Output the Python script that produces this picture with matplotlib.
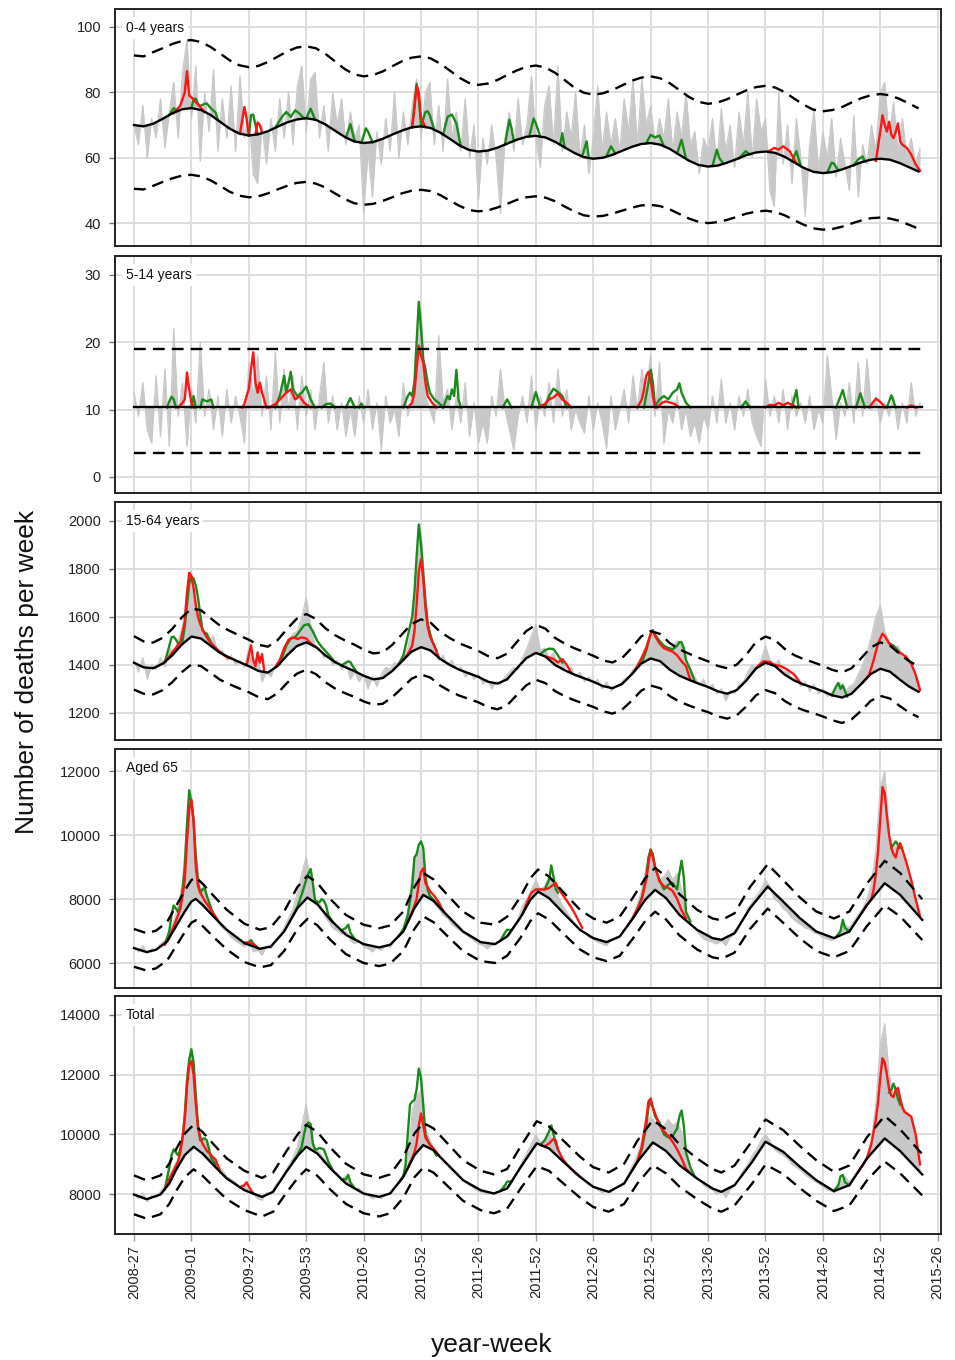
import numpy as np
import matplotlib.pyplot as plt

plt.rcParams['font.family'] = ['Liberation Sans', 'DejaVu Sans']

# x axis: weeks counted from 2008-27
tick_labels = ['2008-27', '2009-01', '2009-27', '2009-53', '2010-26', '2010-52', '2011-26',
               '2011-52', '2012-26', '2012-52', '2013-26', '2013-52', '2014-26', '2014-52', '2015-26']
tick_weeks = np.arange(len(tick_labels)) * 26

# ---------------- 0-4 years ----------------
obs_0_4 = [70, 64, 76, 60, 72, 66, 78, 63, 74, 83, 66, 86, 96, 72, 88, 59, 80, 68, 87, 62,
           78, 66, 82, 62, 85, 66, 74, 55, 52, 70, 58, 72, 62, 78, 66, 80, 64, 82, 88, 68,
           84, 86, 66, 76, 62, 80, 70, 78, 64, 74, 66, 70, 43, 62, 48, 68, 58, 72, 62, 80,
           60, 74, 64, 76, 84, 66, 80, 83, 64, 76, 62, 84, 66, 74, 62, 78, 60, 70, 47, 66,
           58, 70, 60, 43, 66, 74, 62, 78, 64, 70, 85, 66, 57, 76, 82, 64, 88, 62, 74, 66,
           80, 60, 70, 55, 66, 82, 62, 74, 64, 72, 62, 78, 68, 84, 64, 84, 70, 76, 64, 72,
           66, 78, 62, 74, 66, 80, 64, 68, 55, 66, 62, 72, 58, 75, 62, 70, 57, 74, 64, 80,
           60, 78, 68, 72, 50, 45, 80, 58, 70, 52, 72, 60, 42, 64, 75, 56, 68, 60, 72, 54,
           66, 58, 50, 73, 48, 64, 58, 70, 62, 80, 83, 66, 77, 62, 72, 60, 66, 58, 63]
base_0_4 = [70.0, 69.6, 70.4, 71.9, 73.6, 74.8, 75.2, 74.6, 73.1, 71.0, 68.9, 67.4, 66.8,
            67.2, 68.1, 69.5, 70.8, 71.7, 72.1, 71.6, 70.2, 68.3, 66.4, 65.0, 64.5,
            64.8, 65.8, 67.1, 68.3, 69.3, 69.6, 69.1, 67.7, 65.8, 63.8, 62.4, 61.9,
            62.2, 63.1, 64.3, 65.5, 66.4, 66.7, 66.2, 64.9, 63.2, 61.5, 60.2, 59.7,
            60.0, 60.9, 62.1, 63.3, 64.2, 64.5, 64.0, 62.7, 60.9, 59.1, 57.8, 57.3,
            57.6, 58.5, 59.6, 60.8, 61.6, 61.9, 61.5, 60.3, 58.6, 56.9, 55.7, 55.3,
            55.6, 56.4, 57.5, 58.6, 59.4, 59.7, 59.4, 58.4, 57.1, 55.8]
upper_0_4 = [91.3, 91.0, 92.3, 93.5, 94.8, 95.7, 96.0, 95.4, 93.9, 91.9, 89.8, 88.3, 87.7,
             88.1, 89.3, 90.9, 92.5, 93.7, 94.1, 93.5, 91.8, 89.5, 87.2, 85.5, 84.9,
             85.3, 86.4, 88.0, 89.5, 90.6, 91.0, 90.4, 88.8, 86.7, 84.5, 82.9, 82.3,
             82.7, 83.8, 85.3, 86.7, 87.8, 88.2, 87.6, 86.0, 83.8, 81.5, 79.9, 79.3,
             79.7, 80.7, 82.1, 83.5, 84.5, 84.9, 84.3, 82.8, 80.7, 78.6, 77.1, 76.5,
             76.9, 77.9, 79.3, 80.6, 81.6, 82.0, 81.5, 80.1, 78.1, 76.2, 74.7, 74.2,
             74.6, 75.5, 76.9, 78.2, 79.1, 79.5, 79.1, 78.0, 76.6, 75.1]
lower_0_4 = [50.5, 50.3, 51.4, 52.6, 53.7, 54.5, 54.8, 54.3, 53.1, 51.4, 49.6, 48.4, 47.9,
             48.2, 49.1, 50.3, 51.4, 52.3, 52.6, 52.1, 50.9, 49.1, 47.4, 46.1, 45.6,
             45.9, 46.8, 47.9, 49.1, 49.9, 50.2, 49.8, 48.6, 46.9, 45.3, 44.0, 43.6,
             43.9, 44.8, 45.9, 47.1, 47.9, 48.2, 47.8, 46.7, 45.1, 43.6, 42.4, 42.0,
             42.2, 42.9, 43.8, 44.7, 45.4, 45.6, 45.2, 44.2, 42.8, 41.4, 40.4, 40.0,
             40.3, 41.0, 41.9, 42.9, 43.5, 43.8, 43.4, 42.4, 40.9, 39.5, 38.4, 38.0,
             38.2, 38.9, 39.9, 40.8, 41.5, 41.7, 41.4, 40.7, 39.5, 38.3]
weeks_0_4 = np.arange(len(base_0_4)) * 13 / 3
red_0_4 = [([18, 21, 23, 24, 25, 26, 28, 30, 32], [73.6, 76, 80, 86.5, 79, 78.5, 77, 75.5, 74.0]),
           ([48, 50, 51, 52], [67.3, 75.5, 72, 66.8]),
           ([55, 56, 57, 58], [67.1, 70.8, 70, 67.6]),
           ([126, 127, 128, 129, 130, 132], [69.3, 75, 82, 80, 72, 69.4]),
           ([287, 290, 292, 294, 297, 300], [61.8, 63, 62.5, 63.5, 62, 58.3]),
           ([336, 338, 339, 340, 341, 342, 343, 344, 345, 346, 347, 348, 350, 352, 354, 356],
            [59.0, 68, 73, 70, 68, 71, 67, 66, 68, 70.5, 65, 64, 63, 61, 58, 56])]
green_0_4 = [([16, 18, 19, 20], [73.1, 75.2, 74.5, 74.3]),
             ([26, 27, 28, 29, 30, 32, 33, 35, 37, 38], [75.2, 78, 78, 76.5, 75.8, 76.5, 76.6, 75, 73.8, 71.5]),
             ([52, 53, 54, 55, 56], [66.8, 73, 73.2, 70, 67.2]),
             ([64, 67, 69, 71, 73, 75, 77], [69.2, 72.5, 74, 72.5, 74.5, 73.5, 72.0]),
             ([78, 80, 82], [72.1, 75, 71.7]),
             ([96, 98, 100], [66.2, 70.3, 65.0]),
             ([103, 105, 106, 108], [64.6, 69, 68, 64.7]),
             ([126, 127, 128, 129, 130], [69.3, 76, 82.6, 78, 70]),
             ([130, 132, 133, 134, 136], [69.6, 74, 74.2, 73, 68.5]),
             ([140, 142, 144, 146, 148], [67.1, 72.5, 73.2, 70.5, 63.5]),
             ([168, 170, 171, 172], [64.0, 71.6, 69, 65.1]),
             ([179, 181, 182, 184], [66.5, 72, 70.5, 66.5]),
             ([193, 194, 195], [64.0, 67.5, 63.2]),
             ([203, 205, 206], [60.5, 65, 60.0]),
             ([214, 216, 218], [60.5, 63.5, 61.3]),
             ([232, 234, 236, 238, 240], [64.4, 67, 66.2, 66.8, 63.5]),
             ([246, 248, 250], [61.3, 65.5, 59.7]),
             ([262, 264, 265, 267], [57.5, 62.5, 60, 58.2]),
             ([274, 277, 279], [59.8, 62, 61.0]),
             ([298, 300, 302], [58.9, 62, 57.4]),
             ([314, 316, 317, 319], [55.5, 58.5, 58.2, 56.1]),
             ([326, 328, 330, 331], [57.6, 59.5, 60.4, 58.8])]

# ---------------- 5-14 years ----------------
obs_5_14 = [12.5, 9, 14, 7, 5, 15, 6, 16, 4.5, 22, 9, 14, 4.5, 13, 8, 20, 9, 13, 7, 12,
            6, 13, 8, 12, 9, 5, 17, 12, 18, 9, 15, 7, 18.5, 8, 16, 10, 15, 7, 15, 9,
            13, 7, 12, 17, 8, 12, 7, 11, 6, 10, 6, 12, 8, 13, 7, 11, 4, 12, 8, 10,
            6, 14, 9, 12, 17, 25, 12, 10, 8, 21, 11, 13, 7, 12, 8, 14, 6, 11, 5, 8,
            5, 12, 9, 16, 10, 7, 4, 9, 12, 8, 15, 7, 12, 9, 14, 8, 16, 9, 13, 7,
            10, 8, 6.5, 12, 7, 11, 8, 4.2, 12, 7, 10, 13, 8, 15, 10, 16, 12, 18, 9, 17,
            5, 10, 8, 12, 7, 10, 6, 8, 5, 9, 7, 12, 8, 14.5, 8, 11, 7, 12, 9, 13,
            8, 6, 4.5, 14.5, 9, 12, 8, 13, 7, 12, 9, 11, 8, 12, 7, 10, 8, 18, 12, 5.5,
            11, 9, 14, 8, 17, 9, 17.5, 10, 12, 8, 11, 9, 12, 7, 11, 8, 14, 9, 11]
weeks_5_14 = [0, 357]
base_5_14 = [10.3, 10.3]
upper_5_14 = [19.0, 19.0]
lower_5_14 = [3.5, 3.5]
red_5_14 = [([20, 22, 23, 24, 25, 26, 27], [10.3, 11, 11.5, 15.5, 13, 11, 10.3]),
            ([49, 50, 51, 52, 53, 54, 55, 56, 57, 58, 60], [10.3, 10.8, 12, 13, 16, 18.5, 14, 12.5, 14, 12.5, 10.3]),
            ([61, 64, 67, 69, 71, 73, 75, 77, 80], [10.3, 10.8, 11.8, 12.5, 13, 11.5, 12, 11, 10.3]),
            ([124, 126, 127, 128, 129, 130, 131, 132, 133, 135, 137], [10.3, 11, 12.5, 16, 19.5, 18, 17, 14, 12, 11, 10.3]),
            ([183, 186, 188, 190, 192, 194, 196, 198], [10.3, 10.8, 11.5, 11.8, 12.4, 11.5, 11, 10.3]),
            ([228, 230, 231, 232, 233, 234, 235, 236], [10.3, 11.5, 13, 15, 15.6, 14.5, 12, 10.3]),
            ([237, 239, 241, 243, 245, 247], [10.3, 11, 11.2, 11, 10.8, 10.3]),
            ([286, 288, 290, 292, 294, 296, 298, 300], [10.3, 10.7, 10.6, 11.0, 10.6, 11.0, 10.7, 10.3]),
            ([333, 335, 336, 337, 339, 340], [10.3, 11.2, 11.6, 11.4, 10.8, 10.3]),
            ([350, 352, 354], [10.3, 10.6, 10.3])]
green_5_14 = [([15, 16, 17, 18, 19], [10.3, 11.2, 11.9, 11.5, 10.3]),
              ([26, 27, 28], [10.3, 12, 10.3]),
              ([30, 31, 33, 35, 36], [10.3, 11.5, 11.2, 11.5, 10.3]),
              ([64, 66, 67, 68, 69, 70, 71, 72, 74, 76, 78, 80, 82],
               [10.3, 12, 13.5, 15, 12.5, 14, 15.6, 13, 12, 12.5, 13.4, 11.5, 10.3]),
              ([85, 87, 89, 91], [10.3, 10.8, 10.9, 10.3]),
              ([96, 98, 99, 100], [10.3, 11.7, 11, 10.3]),
              ([102, 103, 104], [10.3, 10.9, 10.3]),
              ([122, 124, 125, 126, 127, 128, 129, 130, 131, 132, 133, 134, 136, 138, 140],
               [10.3, 12, 12.5, 12, 14, 20, 26, 22, 17.5, 16, 14, 12.5, 11.5, 11, 10.3]),
              ([140, 142, 143, 144, 145, 146, 147, 148], [10.3, 12, 11.5, 13, 12, 15.9, 11.5, 10.3]),
              ([167, 169, 171], [10.3, 11.5, 10.3]),
              ([180, 182, 184], [10.3, 12.6, 10.3]),
              ([186, 188, 190, 192, 194, 196], [10.3, 12, 13.1, 12.6, 12, 10.3]),
              ([231, 233, 234, 235, 236], [10.3, 14, 15.9, 14, 10.5]),
              ([236, 238, 240, 242, 244, 246, 247, 248, 250, 252], [10.5, 11.5, 12, 11.5, 12.5, 13, 13.9, 12.5, 11, 10.3]),
              ([275, 277, 279], [10.3, 11.2, 10.3]),
              ([298, 300, 301], [10.3, 12.9, 10.3]),
              ([318, 320, 321, 323], [10.3, 12, 12.9, 10.3]),
              ([327, 329, 331], [10.3, 12.4, 10.3]),
              ([341, 343, 345], [10.3, 12.1, 10.3])]

# ---------------- 15-64 years ----------------
obs_15_64 = [1420, 1370, 1430, 1340, 1400, 1380, 1430, 1390, 1470, 1450, 1500, 1560, 1700, 1790, 1650,
             1560, 1530, 1500, 1520, 1450, 1460, 1420, 1440, 1400, 1420, 1390, 1470, 1400, 1440, 1330,
             1370, 1350, 1400, 1420, 1470, 1500, 1530, 1540, 1600, 1680, 1570, 1480, 1470, 1430, 1440,
             1400, 1420, 1380, 1410, 1340, 1370, 1330, 1360, 1300, 1350, 1310, 1360, 1390, 1380, 1410,
             1400, 1430, 1470, 1560, 1800, 1950, 1700, 1520, 1470, 1420, 1440, 1400, 1420, 1380, 1390,
             1350, 1370, 1340, 1360, 1320, 1340, 1300, 1330, 1320, 1350, 1370, 1390, 1380, 1430, 1470,
             1520, 1570, 1460, 1470, 1430, 1450, 1400, 1420, 1370, 1390, 1350, 1370, 1330, 1350, 1320,
             1340, 1300, 1330, 1290, 1310, 1320, 1340, 1350, 1380, 1400, 1440, 1480, 1530, 1510, 1480,
             1470, 1460, 1480, 1500, 1490, 1420, 1370, 1350, 1320, 1340, 1300, 1320, 1280, 1300, 1250,
             1290, 1280, 1320, 1330, 1370, 1400, 1380, 1420, 1480, 1420, 1400, 1420, 1370, 1380, 1340,
             1350, 1310, 1330, 1290, 1320, 1280, 1300, 1270, 1280, 1300, 1320, 1280, 1310, 1320, 1360,
             1400, 1450, 1520, 1600, 1650, 1540, 1500, 1460, 1480, 1430, 1440, 1400, 1340, 1300]
base_15_64 = [1409, 1390, 1386, 1405, 1440, 1485, 1518, 1510, 1480, 1450,
              1430, 1412, 1395, 1375, 1368, 1395, 1440, 1478, 1494, 1475,
              1440, 1412, 1392, 1375, 1355, 1340, 1345, 1375, 1415, 1455,
              1474, 1460, 1425, 1400, 1380, 1365, 1350, 1330, 1322, 1340,
              1385, 1428, 1450, 1435, 1400, 1378, 1360, 1345, 1330, 1312,
              1303, 1320, 1360, 1405, 1427, 1415, 1380, 1355, 1338, 1322,
              1308, 1290, 1280, 1295, 1335, 1385, 1409, 1395, 1360, 1335,
              1318, 1305, 1290, 1273, 1264, 1280, 1320, 1362, 1384, 1372,
              1340, 1310, 1288]
upper_15_64 = [1520, 1498, 1493, 1513, 1550, 1598, 1635, 1628, 1595, 1563,
               1542, 1523, 1505, 1484, 1476, 1503, 1550, 1592, 1612, 1592,
               1553, 1524, 1503, 1485, 1464, 1448, 1452, 1484, 1527, 1570,
               1590, 1576, 1538, 1512, 1490, 1474, 1458, 1437, 1428, 1447,
               1495, 1541, 1567, 1551, 1513, 1489, 1470, 1454, 1438, 1419,
               1410, 1428, 1470, 1518, 1541, 1529, 1491, 1465, 1447, 1430,
               1415, 1396, 1386, 1401, 1443, 1495, 1518, 1504, 1467, 1441,
               1424, 1411, 1396, 1379, 1369, 1386, 1428, 1472, 1494, 1481,
               1447, 1416, 1394]
lower_15_64 = [1297, 1280, 1277, 1295, 1328, 1370, 1402, 1395, 1367, 1338,
               1319, 1302, 1286, 1266, 1257, 1282, 1325, 1363, 1380, 1362,
               1328, 1302, 1283, 1267, 1248, 1234, 1238, 1266, 1303, 1342,
               1360, 1347, 1314, 1291, 1272, 1258, 1244, 1224, 1215, 1232,
               1274, 1315, 1338, 1324, 1291, 1270, 1253, 1239, 1225, 1207,
               1197, 1213, 1250, 1292, 1314, 1303, 1270, 1247, 1231, 1216,
               1203, 1186, 1176, 1190, 1227, 1273, 1295, 1282, 1250, 1227,
               1211, 1199, 1185, 1169, 1158, 1173, 1209, 1250, 1271, 1260,
               1230, 1202, 1182]
weeks_15_64 = np.arange(len(base_15_64)) * 13 / 3
red_15_64 = [([14, 18, 21, 23, 24, 25, 26, 27, 28, 29, 30, 32, 34, 37, 40, 43],
              [1412, 1460, 1495, 1580, 1700, 1784, 1770, 1720, 1650, 1600, 1570, 1530, 1500, 1470, 1445, 1428]),
             ([51, 52, 53, 54, 55, 56, 57, 58, 59], [1398, 1440, 1482, 1420, 1395, 1452, 1410, 1445, 1372]),
             ([64, 66, 68, 70, 72, 74, 76, 78, 80, 82], [1390, 1420, 1470, 1505, 1515, 1508, 1515, 1510, 1490, 1475]),
             ([120, 122, 124, 126, 127, 128, 129, 130, 131, 132, 133, 134, 136, 138],
              [1405, 1420, 1445, 1480, 1540, 1650, 1790, 1840, 1760, 1640, 1560, 1520, 1480, 1432]),
             ([186, 188, 190, 192, 194, 196, 198], [1437, 1430, 1425, 1410, 1425, 1400, 1368]),
             ([226, 228, 230, 232, 234, 235, 236, 238, 240, 242, 244, 246, 248, 250, 252],
              [1367, 1395, 1430, 1470, 1530, 1541, 1520, 1490, 1470, 1462, 1455, 1440, 1415, 1395, 1336]),
             ([282, 285, 288, 290, 293, 296, 299, 302], [1390, 1415, 1412, 1400, 1395, 1380, 1360, 1323]),
             ([330, 333, 335, 337, 339, 340, 342, 344, 346, 348, 350, 352, 354, 356],
              [1326, 1360, 1420, 1490, 1530, 1520, 1490, 1470, 1455, 1445, 1430, 1405, 1360, 1295])]
green_15_64 = [([14, 16, 17, 18, 19, 20, 22, 23, 24, 25, 26, 27, 28, 29, 30, 31, 32, 33, 35, 38, 41],
                [1412, 1480, 1515, 1518, 1505, 1490, 1500, 1560, 1650, 1740, 1765, 1760, 1730, 1680, 1610,
                 1545, 1535, 1530, 1490, 1460, 1440]),
               ([66, 69, 71, 73, 75, 77, 79, 81, 83, 85, 88, 91],
                [1405, 1480, 1510, 1515, 1540, 1565, 1570, 1540, 1500, 1475, 1445, 1412]),
               ([94, 96, 97, 98, 99, 101], [1398, 1410, 1415, 1412, 1395, 1369]),
               ([120, 122, 123, 124, 125, 126, 127, 128, 129, 130, 131, 132, 133, 135, 137],
                [1405, 1440, 1480, 1520, 1560, 1600, 1700, 1850, 1985, 1900, 1780, 1660, 1570, 1500, 1460]),
               ([184, 186, 188, 190, 192, 194], [1445, 1460, 1468, 1466, 1440, 1410]),
               ([230, 232, 234, 235, 236, 238, 240, 242, 244, 246, 247, 248, 249, 250, 252, 254],
                [1410, 1460, 1530, 1545, 1525, 1500, 1480, 1470, 1465, 1480, 1495, 1495, 1470, 1420, 1380, 1330]),
               ([316, 318, 319, 320, 321, 323], [1273, 1310, 1325, 1300, 1315, 1268]),
               ([342, 343, 344, 345, 347], [1490, 1485, 1480, 1470, 1450])]

# ---------------- Aged 65 ----------------
obs_65 = [6500, 6350, 6550, 6300, 6450, 6400, 6600, 6700, 6900, 7300, 7800, 8500, 10500, 11300, 9500,
          8300, 8400, 7800, 7500, 7300, 7100, 7000, 6800, 6700, 6600, 6500, 6650, 6350, 6400, 6250,
          6500, 6450, 6700, 6850, 7100, 7400, 7700, 8200, 8800, 9300, 8600, 7900, 7900, 7500, 7300,
          7100, 7000, 6900, 7000, 6700, 6600, 6700, 6500, 6450, 6350, 6500, 6400, 6550, 6500, 6700,
          6900, 7100, 7500, 8800, 9400, 9600, 8600, 8100, 7900, 7700, 7500, 7400, 7200, 7100, 7000,
          6900, 6800, 6700, 6600, 6550, 6450, 6550, 6600, 6700, 6900, 6850, 7100, 7400, 7800, 8000,
          8300, 8600, 8300, 8400, 8700, 8500, 8100, 7800, 7600, 7400, 7200, 7000, 6950, 6800, 6750,
          6650, 6600, 6550, 6700, 6750, 6850, 7000, 7200, 7500, 7800, 8300, 9000, 9400, 8900, 8600,
          8700, 8900, 8600, 8800, 8300, 7600, 7200, 7100, 6900, 6750, 6700, 6650, 6600, 6700, 6550,
          6800, 6900, 7100, 7400, 7700, 7900, 8100, 8300, 8600, 8400, 8000, 7900, 7700, 7600, 7400,
          7300, 7200, 7100, 7050, 6950, 6900, 6800, 6750, 6700, 6850, 7000, 7200, 7100, 7300, 7500,
          7700, 8000, 8500, 9500, 11500, 12000, 10000, 9600, 9700, 9500, 9100, 8600, 8000, 7600]
weeks_65 = [0, 5.7, 10, 15, 19, 23, 26, 28, 31, 36, 42, 50, 57, 62, 68, 74, 78.5, 83, 89, 96,
            104, 111, 116, 122, 127, 131, 135.6, 141.6, 149, 157, 163.5, 169, 175, 179.5, 183, 188, 194.5, 202, 208, 214,
            220, 226, 231.5, 236, 241, 247, 255, 262, 266, 272, 279, 287, 294, 301.6, 309, 317, 324, 332, 340, 347,
            357]
base_65 = [6467, 6342, 6415, 6675, 7143, 7611, 7923, 8006, 7819, 7455, 7039, 6623, 6446, 6519, 6987, 7715, 8048, 7840, 7351, 6883,
           6592, 6488, 6571, 6987, 7715, 8131, 7944, 7507, 6987, 6654, 6592, 6831, 7420, 7975, 8235, 8027, 7559, 7039, 6779, 6654,
           6831, 7403, 7975, 8287, 8027, 7507, 7039, 6779, 6727, 6935, 7715, 8391, 7923, 7403, 6987, 6779, 6987, 7819, 8495, 8131,
           7351]
upper_65 = [7065, 6934, 7011, 7284, 7775, 8267, 8594, 8681, 8485, 8103, 7666, 7229, 7043, 7120, 7611, 8376, 8725, 8507, 7994, 7502,
            7197, 7087, 7175, 7611, 8376, 8813, 8616, 8157, 7611, 7262, 7197, 7448, 8066, 8649, 8922, 8703, 8212, 7666, 7393, 7262,
            7448, 8048, 8649, 8976, 8703, 8157, 7666, 7393, 7338, 7557, 8376, 9086, 8594, 8048, 7611, 7393, 7611, 8485, 9195, 8813,
            7994]
lower_65 = [5884, 5766, 5835, 6081, 6523, 6966, 7260, 7339, 7162, 6818, 6425, 6032, 5864, 5933, 6376, 7064, 7378, 7182, 6720, 6277,
            6002, 5904, 5983, 6376, 7064, 7457, 7280, 6867, 6376, 6061, 6002, 6228, 6785, 7310, 7555, 7359, 6916, 6425, 6179, 6061,
            6228, 6769, 7310, 7604, 7359, 6867, 6425, 6179, 6130, 6327, 7064, 7702, 7260, 6769, 6376, 6179, 6376, 7162, 7801, 7457,
            6720]
red_65 = [([14, 16, 18, 20, 21, 22, 23, 24, 25, 26, 27, 28, 29, 30, 32, 34, 36, 38],
           [6580, 6800, 7150, 7500, 7700, 8100, 8600, 9800, 10800, 11100, 10400, 9000, 8400, 8200, 7950, 7750, 7550, 7330]),
          ([50, 52, 54, 56], [6623, 6650, 6600, 6480]),
          ([124, 126, 128, 129, 130, 131, 132, 134, 136, 138, 140],
           [7280, 7600, 8000, 8500, 8850, 8960, 8500, 8250, 8100, 7900, 7620]),
          ([176, 178, 180, 182, 184, 186, 188, 190, 191, 192, 194, 196, 198, 200, 203],
           [7530, 7900, 8200, 8300, 8300, 8300, 8350, 8450, 8500, 8350, 8150, 7950, 7750, 7500, 7100]),
          ([224, 226, 228, 230, 232, 233, 234, 235, 236, 238, 240, 242, 244, 246, 248, 250],
           [7210, 7420, 7700, 8000, 8600, 9100, 9530, 9300, 9000, 8550, 8400, 8350, 8250, 8000, 7650, 7400]),
          ([330, 332, 334, 335, 336, 337, 338, 339, 340, 341, 342, 343, 344, 345, 346, 347, 348, 350, 352, 354, 356],
           [7610, 7819, 8000, 8300, 8800, 9500, 10500, 11500, 11300, 10600, 10000, 9600, 9400, 9300, 9600, 9750,
            9550, 9100, 8600, 8000, 7450])]
green_65 = [([14, 16, 17, 18, 19, 20, 21, 22, 23, 24, 25, 26, 27, 28, 29, 30, 31, 32, 33, 34, 36],
             [6580, 7000, 7500, 7800, 7700, 7600, 7800, 8300, 9000, 10300, 11400, 11000, 10500, 9300, 8500, 8200,
              8300, 8340, 8100, 7900, 7500]),
            ([50, 52, 53, 54, 56], [6623, 6650, 6720, 6600, 6470]),
            ([72, 74, 76, 78, 79, 80, 81, 82, 84, 85, 86, 87, 88, 90],
             [7480, 7750, 8150, 8600, 8800, 8940, 8500, 7950, 7900, 8000, 7950, 7800, 7500, 7280]),
            ([94, 96, 97, 98, 100], [7020, 7100, 7200, 6950, 6740]),
            ([120, 122, 124, 126, 127, 128, 129, 130, 131, 132, 133, 134, 136, 138, 140],
             [6850, 7050, 7500, 8400, 9300, 9400, 9700, 9800, 9600, 8700, 8300, 8100, 7950, 7800, 7650]),
            ([166, 168, 169, 171], [6700, 6950, 7040, 7030]),
            ([186, 188, 189, 190, 191, 192], [8300, 8600, 9050, 8700, 8300, 8200]),
            ([228, 230, 232, 233, 234, 235, 236, 237, 238, 240, 242, 244, 246, 247, 248, 249, 250, 252],
             [7700, 8050, 8700, 9300, 9550, 9400, 9000, 8800, 8600, 8300, 8450, 8500, 8300, 8800, 9200, 8700, 7600, 7300]),
            ([318, 320, 321, 322, 324], [6810, 7000, 7350, 7100, 6987]),
            ([343, 344, 345, 346, 347], [9600, 9700, 9800, 9700, 9600])]

# ---------------- Total ----------------
obs_total = [8000, 7850, 8050, 7750, 7950, 7900, 8100, 8300, 8600, 8900, 9200, 10000, 12000, 12800, 11000,
             9900, 9800, 9400, 9100, 9000, 8800, 8600, 8500, 8400, 8200, 8350, 8100, 8000, 7850, 7800,
             8050, 8000, 8300, 8450, 8700, 8950, 9200, 9600, 10300, 11000, 10100, 9500, 9400, 9200, 9000,
             8800, 8700, 8500, 8600, 8350, 8200, 8200, 8000, 7950, 7850, 7950, 7850, 8000, 8050, 8250,
             8400, 8700, 9100, 10800, 11300, 11500, 10200, 9800, 9500, 9300, 9100, 8950, 8800, 8750, 8550,
             8400, 8300, 8200, 8100, 8050, 8000, 8050, 8000, 8150, 8300, 8250, 8500, 8800, 9100, 9400,
             9700, 10000, 9700, 9800, 10000, 9800, 9500, 9200, 9000, 8800, 8650, 8600, 8450, 8300, 8250,
             8150, 8050, 8100, 8050, 8200, 8300, 8400, 8700, 9000, 9300, 9800, 10400, 10600, 10400, 10200,
             10300, 10500, 10300, 10400, 10100, 9200, 8800, 8600, 8500, 8300, 8200, 8150, 8000, 8100, 7900,
             8150, 8300, 8500, 8800, 9000, 9300, 9500, 9800, 10000, 9800, 9500, 9400, 9300, 9200, 9000,
             8900, 8800, 8650, 8550, 8450, 8350, 8250, 8150, 8100, 8250, 8400, 8600, 8400, 8600, 8800,
             9000, 9300, 9800, 11000, 13000, 13700, 12000, 11300, 11600, 11000, 10700, 10500, 9700, 9000]
weeks_total = [0, 5.7, 12, 16, 19, 23, 27, 31, 36, 42, 50,
               58, 63, 69, 74.4, 78, 83, 89, 96, 104, 111,
               116, 122, 127, 131, 135.6, 141.6, 149, 157, 163, 169,
               175, 182.4, 188, 194.5, 202, 208, 215, 222, 228, 235,
               241, 247, 255, 262, 266, 272, 280, 286, 294, 301.6,
               309, 317, 324, 332, 340, 347, 357]
base_total = [7990, 7834, 7990, 8360, 8806, 9309, 9588, 9364, 8974, 8527, 8136,
              7912, 8080, 8750, 9309, 9588, 9364, 8862, 8359, 8024, 7912,
              8024, 8582, 9309, 9644, 9476, 9029, 8471, 8136, 8024, 8192,
              8890, 9700, 9532, 9085, 8582, 8248, 8080, 8359, 9085, 9733,
              9443, 8974, 8527, 8192, 8080, 8304, 9085, 9756, 9420, 8918,
              8471, 8102, 8304, 9197, 9867, 9443, 8661]
upper_total = [8629, 8464, 8629, 9022, 9494, 10028, 10323, 10086, 9672, 9199, 8784,
               8547, 8725, 9435, 10028, 10323, 10086, 9554, 9021, 8665, 8547,
               8665, 9257, 10028, 10383, 10205, 9731, 9139, 8784, 8665, 8844,
               9583, 10442, 10264, 9790, 9257, 8903, 8725, 9021, 9790, 10477,
               10170, 9672, 9199, 8844, 8725, 8962, 9790, 10501, 10145, 9613,
               9139, 8748, 8962, 9909, 10619, 10170, 9341]
lower_total = [7331, 7184, 7331, 7678, 8098, 8570, 8833, 8622, 8256, 7835, 7468,
               7257, 7415, 8045, 8570, 8833, 8622, 8150, 7677, 7363, 7257,
               7363, 7887, 8570, 8885, 8727, 8307, 7783, 7468, 7363, 7520,
               8177, 8938, 8780, 8360, 7887, 7573, 7415, 7677, 8360, 8969,
               8696, 8256, 7835, 7520, 7415, 7626, 8360, 8991, 8675, 8203,
               7783, 7436, 7626, 8465, 9095, 8696, 7961]
red_total = [([14, 16, 18, 20, 21, 22, 23, 24, 25, 26, 27, 28, 29, 30, 31, 33, 35, 37, 39],
              [8175, 8500, 8800, 9100, 9400, 9900, 10500, 11600, 12300, 12450, 12000, 11000, 10200, 9900, 9700,
               9450, 9300, 9150, 8750]),
             ([48, 50, 51, 52, 54], [8234, 8300, 8400, 8250, 8024]),
             ([124, 126, 127, 128, 129, 130, 131, 132, 134, 136, 138],
              [8870, 9200, 9400, 9700, 10300, 10700, 10300, 9900, 9650, 9500, 9300]),
             ([184, 186, 188, 190, 191, 192, 194, 196, 198, 200, 202],
              [9650, 9600, 9700, 9850, 9800, 9500, 9200, 9000, 8850, 8720, 8582]),
             ([226, 228, 230, 232, 233, 234, 235, 236, 238, 240, 242, 244, 246, 248, 250, 252],
              [8840, 9100, 9600, 10500, 11100, 11200, 10900, 10700, 10300, 10100, 9950, 9750, 9500, 9200, 8850, 8700]),
             ([328, 330, 332, 334, 336, 337, 338, 339, 340, 341, 342, 343, 344, 345, 346, 347, 348, 349, 350, 352, 354, 356],
              [8750, 8970, 9200, 9700, 10500, 11100, 11900, 12550, 12400, 12000, 11500, 11300, 11250, 11500, 11550,
               11200, 10900, 10750, 10700, 10600, 10000, 9000])]
green_total = [([14, 16, 17, 18, 19, 20, 21, 22, 23, 24, 25, 26, 27, 28, 29, 30, 31, 32, 33, 34, 35, 37],
                [8175, 8900, 9300, 9500, 9400, 9300, 9500, 9900, 10600, 11800, 12500, 12850, 12400, 11300, 10300,
                 9800, 9850, 9870, 9800, 9500, 9200, 9000]),
               ([72, 74, 76, 77, 78, 79, 80, 81, 82, 83, 84, 86, 88, 90],
                [9100, 9300, 9600, 10000, 10300, 10400, 10350, 9700, 9500, 9500, 9550, 9500, 9100, 8800]),
               ([94, 96, 97, 98, 100], [8500, 8500, 8650, 8400, 8191]),
               ([120, 122, 123, 124, 125, 126, 127, 128, 129, 130, 131, 132, 133, 135, 137],
                [8400, 8600, 9000, 10000, 11000, 11100, 11150, 11500, 12200, 11900, 11000, 10000, 9800, 9550, 9300]),
               ([166, 168, 169, 171], [8108, 8300, 8420, 8425]),
               ([184, 186, 188, 189, 190, 191, 192], [9650, 9800, 10100, 10300, 10000, 9700, 9500]),
               ([228, 230, 232, 233, 234, 235, 236, 238, 240, 242, 244, 246, 247, 248, 249, 250, 252, 254],
                [9085, 9500, 10300, 10900, 11100, 10900, 10600, 10400, 10000, 9900, 9950, 10200, 10600, 10800,
                 10300, 9400, 8900, 8580]),
               ([317, 319, 320, 321, 322, 324], [8102, 8300, 8600, 8640, 8400, 8304]),
               ([342, 343, 344, 345, 346, 347], [11400, 11500, 11700, 11500, 11200, 11000])]

panels = [
    dict(label='0-4 years', obs=obs_0_4, weeks=weeks_0_4, base=base_0_4, upper=upper_0_4, lower=lower_0_4,
         red=red_0_4, green=green_0_4, yticks=[40, 60, 80, 100], ylim=(33, 105.5)),
    dict(label='5-14 years', obs=obs_5_14, weeks=weeks_5_14, base=base_5_14, upper=upper_5_14, lower=lower_5_14,
         red=red_5_14, green=green_5_14, yticks=[0, 10, 20, 30], ylim=(-2.4, 32.8)),
    dict(label='15-64 years', obs=obs_15_64, weeks=weeks_15_64, base=base_15_64, upper=upper_15_64,
         lower=lower_15_64, red=red_15_64, green=green_15_64, yticks=[1200, 1400, 1600, 1800, 2000],
         ylim=(1087, 2079)),
    dict(label='Aged 65', obs=obs_65, weeks=weeks_65, base=base_65, upper=upper_65, lower=lower_65,
         red=red_65, green=green_65, yticks=[6000, 8000, 10000, 12000], ylim=(5220, 12690)),
    dict(label='Total', obs=obs_total, weeks=weeks_total, base=base_total, upper=upper_total, lower=lower_total,
         red=red_total, green=green_total, yticks=[8000, 10000, 12000, 14000], ylim=(6670, 14630)),
]

# panel boxes in figure pixels (top, bottom) for a 955 x 1360 canvas
boxes = [(9, 246), (256, 493), (502, 740), (749, 988), (996, 1234)]
W, H = 955, 1360
left_px, right_px = 115, 941

grey = '#c8c8c8'
fig = plt.figure(figsize=(W / 100, H / 100), dpi=100)

for i, p in enumerate(panels):
    top, bot = boxes[i]
    ax = fig.add_axes([left_px / W, 1 - bot / H, (right_px - left_px) / W, (bot - top) / H])
    ax.set_xlim(-8.6, 365.5)
    ax.set_ylim(*p['ylim'])
    ax.set_yticks(p['yticks'])
    ax.set_xticks(tick_weeks)
    ax.grid(True, color='#dedede', lw=1.4)
    ax.set_axisbelow(True)

    ow = 2 * np.arange(len(p['obs']))
    base_at_obs = np.interp(ow, p['weeks'], p['base'])
    ax.fill_between(ow, p['obs'], base_at_obs, color=grey, lw=0, zorder=1)
    ax.plot(ow, p['obs'], color=grey, lw=0.9, zorder=1)

    for w, v in p['green']:
        n = min(len(w), len(v))
        ax.plot(w[:n], v[:n], color='#1a8a1a', lw=1.7, zorder=2)
    for w, v in p['red']:
        n = min(len(w), len(v))
        ax.plot(w[:n], v[:n], color='#ff1414', lw=1.7, zorder=3)

    ax.plot(p['weeks'], p['base'], color='black', lw=1.7, zorder=4)
    ax.plot(p['weeks'], p['upper'], color='black', lw=1.7, ls=(0, (5, 3)), zorder=4)
    ax.plot(p['weeks'], p['lower'], color='black', lw=1.7, ls=(0, (5, 3)), zorder=4)

    ax.text(0.013, 1 - 19 / (bot - top), p['label'], transform=ax.transAxes, ha='left', va='center',
            fontsize=10, color='#111111', zorder=10,
            bbox=dict(facecolor='white', edgecolor='none', pad=3))

    for s in ax.spines.values():
        s.set_linewidth(1.4)
        s.set_color('#222222')
    ax.tick_params(axis='y', length=4, width=1, color='#777777', pad=6, labelsize=10.5, labelcolor='#222222')
    if i < len(panels) - 1:
        ax.tick_params(axis='x', length=0, labelbottom=False)
    else:
        ax.set_xticklabels(tick_labels, rotation=90)
        ax.tick_params(axis='x', length=5, width=1, color='#999999', pad=3, labelsize=10.5,
                       labelcolor='#222222')

fig.text(27 / W, 1 - 672 / H, 'Number of deaths per week', rotation=90, ha='center', va='center',
         fontsize=19, color='#111111')
fig.text(492 / W, 1 - 1345 / H, 'year-week', ha='center', va='center', fontsize=19, color='#111111')

fig.savefig('out.png', dpi=100)
